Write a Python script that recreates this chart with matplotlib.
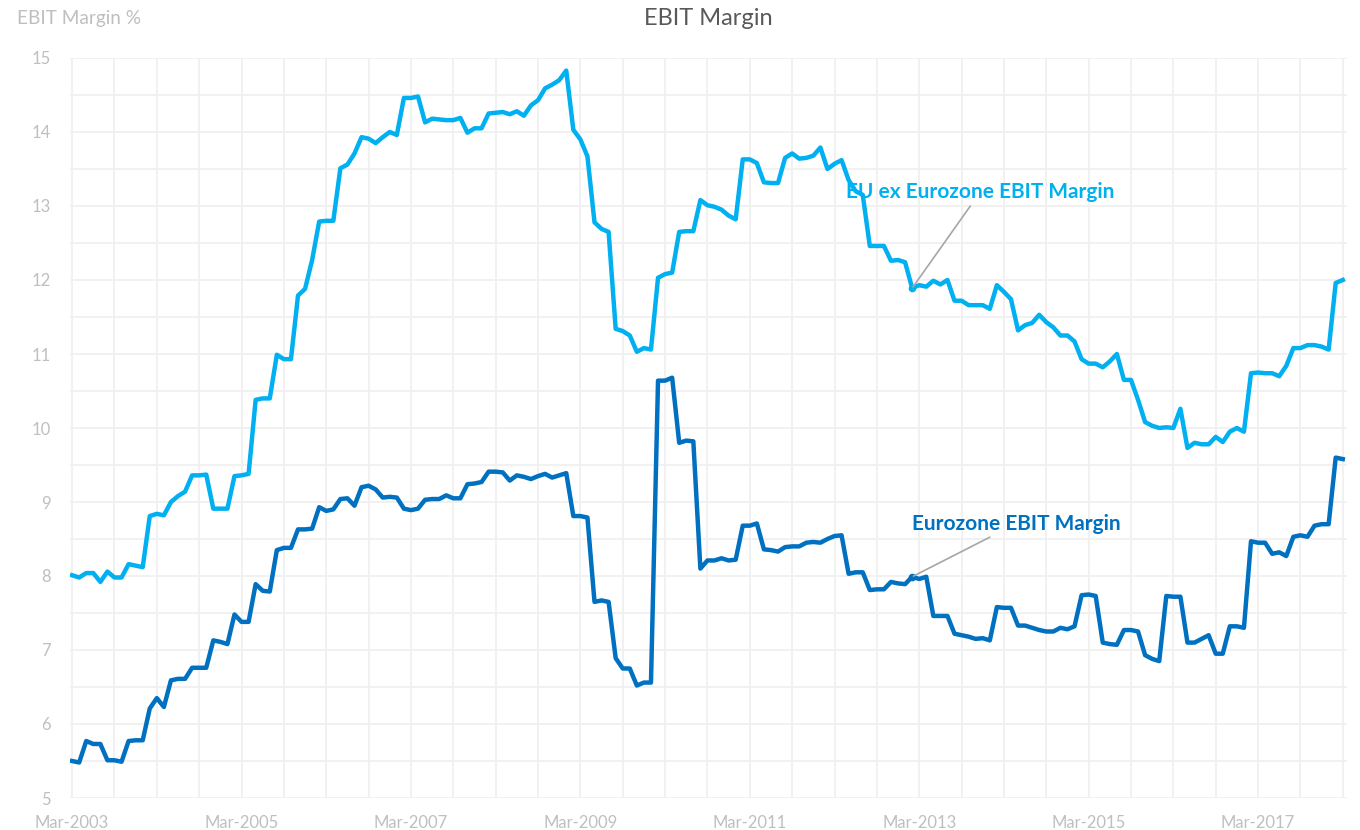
import numpy as np
import pandas as pd
import matplotlib

matplotlib.use("Agg")
import matplotlib.pyplot as plt

plt.rcParams["font.family"] = ["Lato", "DejaVu Sans"]

# monthly observations, Mar-2003 .. Mar-2018
dates = pd.date_range("2003-03-01", periods=181, freq="MS")

eurozone = [
    5.50, 5.48, 5.77, 5.73, 5.73, 5.51, 5.51, 5.49, 5.77, 5.78,
    5.78, 6.21, 6.35, 6.23, 6.59, 6.61, 6.61, 6.76, 6.76, 6.76,
    7.13, 7.11, 7.08, 7.48, 7.38, 7.38, 7.89, 7.80, 7.79, 8.35,
    8.38, 8.38, 8.63,
    8.63, 8.64, 8.93, 8.88, 8.90, 9.04, 9.05, 8.95, 9.20, 9.22,
    9.17, 9.06, 9.07, 9.06, 8.91, 8.89, 8.91, 9.03, 9.04, 9.04,
    9.09, 9.05, 9.05, 9.24, 9.25, 9.27, 9.41, 9.41, 9.40, 9.29,
    9.36, 9.34, 9.31, 9.35, 9.38, 9.33, 9.36, 9.39, 8.81, 8.81,
    8.79, 7.65, 7.67, 7.65,
    6.89, 6.75, 6.75, 6.52, 6.56, 6.56, 10.64, 10.64, 10.68, 9.80,
    9.83, 9.82, 8.10, 8.21, 8.21, 8.24, 8.21, 8.22, 8.68, 8.68,
    8.71, 8.36, 8.35, 8.33, 8.39, 8.40, 8.40, 8.45, 8.46, 8.45,
    8.50, 8.54, 8.55, 8.03, 8.05, 8.05, 7.81, 7.82, 7.82, 7.92,
    7.90, 7.89, 7.99, 7.96, 7.99, 7.46, 7.46, 7.46,
    7.22, 7.20, 7.18, 7.15, 7.16, 7.13, 7.58, 7.57, 7.57, 7.33,
    7.33, 7.30, 7.27, 7.25, 7.25, 7.30, 7.28, 7.32, 7.74, 7.75,
    7.73, 7.10, 7.08, 7.07, 7.27, 7.27, 7.25, 6.93, 6.88, 6.85,
    7.73, 7.72, 7.72, 7.10, 7.10, 7.15, 7.20, 6.95, 6.95, 7.32,
    7.32, 7.30, 8.47, 8.45, 8.45, 8.30, 8.32, 8.27, 8.53, 8.55,
    8.53, 8.68, 8.70, 8.70, 9.60, 9.58,
]

eu_ex_eurozone = [
    8.01, 7.98, 8.04, 8.04, 7.92, 8.06, 7.98, 7.98, 8.16, 8.14,
    8.12, 8.81, 8.84, 8.82, 9.00, 9.08, 9.14, 9.36, 9.36, 9.37,
    8.91, 8.91, 8.91, 9.35, 9.36, 9.38,
    10.38, 10.40, 10.40, 10.99, 10.93, 10.93, 11.79, 11.88, 12.27, 12.79,
    12.80, 12.80, 13.51, 13.56, 13.71, 13.93, 13.91, 13.85, 13.93, 14.00,
    13.96, 14.46, 14.46, 14.48, 14.13, 14.18, 14.17, 14.16, 14.16, 14.19,
    13.99, 14.05, 14.05, 14.25, 14.26, 14.27, 14.24, 14.28, 14.22, 14.36,
    14.43, 14.59, 14.64, 14.70, 14.83, 14.03, 13.90, 13.67,
    12.78, 12.69, 12.65, 11.34, 11.31, 11.25, 11.03, 11.08, 11.06, 12.03,
    12.08, 12.10, 12.65, 12.66, 12.66, 13.08, 13.01, 12.99, 12.95, 12.87,
    12.82, 13.63, 13.63, 13.58, 13.32, 13.31, 13.31, 13.65, 13.71, 13.64,
    13.65, 13.68, 13.79, 13.50, 13.57, 13.62, 13.35, 13.20, 13.15, 12.46,
    12.46, 12.46, 12.26, 12.27, 12.24, 11.89, 11.93, 11.91, 11.99, 11.94,
    12.00,
    11.72, 11.72, 11.66, 11.66, 11.66, 11.61, 11.93, 11.84, 11.74, 11.32,
    11.39, 11.42, 11.53, 11.43, 11.36, 11.25, 11.25, 11.17, 10.93, 10.87,
    10.87, 10.82, 10.90, 11.00, 10.65, 10.65, 10.38, 10.08, 10.03, 10.00,
    10.01, 10.00, 10.26, 9.73, 9.80, 9.78, 9.78, 9.88, 9.81, 9.95,
    10.00, 9.95, 10.74, 10.75, 10.74, 10.74, 10.70, 10.84, 11.08, 11.08,
    11.12, 11.12, 11.10, 11.06, 11.96, 12.00,
]

label_idx = 119  # where the series labels are anchored
CYAN = "#00B0F0"
BLUE = "#0070C0"
GRID = "#F0F0F0"
TICK = "#BFBFBF"

x = np.arange(len(dates))

fig = plt.figure(figsize=(13.6, 8.3), dpi=100)
ax = fig.add_axes([70 / 1360, 32 / 830, 1277 / 1360, 740 / 830])

ax.plot(x, eu_ex_eurozone, color=CYAN, lw=3.2, solid_joinstyle="round")
ax.plot(x, eurozone, color=BLUE, lw=3.2, solid_joinstyle="round")

ax.set_xlim(-0.3, 180.6)
ax.set_ylim(5, 15)
ax.set_yticks(np.arange(5, 15.1, 1))
ax.set_yticks(np.arange(5, 15.1, 0.5), minor=True)
ax.set_xticks(x[::24])
ax.set_xticklabels([d.strftime("%b-%Y") for d in dates[::24]])
ax.set_xticks(x[::6], minor=True)

ax.grid(True, which="both", color=GRID, lw=1.3)
ax.set_axisbelow(True)
for s in ax.spines.values():
    s.set_visible(False)
ax.tick_params(which="both", length=0, colors=TICK, labelsize=12, pad=12)
ax.tick_params(axis="y", pad=14)

fig.text(708 / 1360, 0.978, "EBIT Margin", ha="center", va="center",
         fontsize=17, color="#595959")
fig.text(17 / 1360, 0.978, "EBIT Margin %", ha="left", va="center",
         fontsize=13.7, color=TICK)

for series, color, text, off in (
    (eu_ex_eurozone, CYAN, "EU ex Eurozone EBIT Margin", (68, 96)),
    (eurozone, BLUE, "Eurozone EBIT Margin", (104, 53)),
):
    ax.plot(x[label_idx], series[label_idx], "o", color=color, ms=4.5)
    ax.annotate(text, (x[label_idx], series[label_idx]), xytext=off,
                textcoords="offset pixels", ha="center", va="center",
                fontsize=15, fontweight="bold", color=color,
                arrowprops=dict(arrowstyle="-", color="#A6A6A6", lw=1.2,
                                shrinkA=1, shrinkB=1))

fig.savefig("out.png", dpi=100)
